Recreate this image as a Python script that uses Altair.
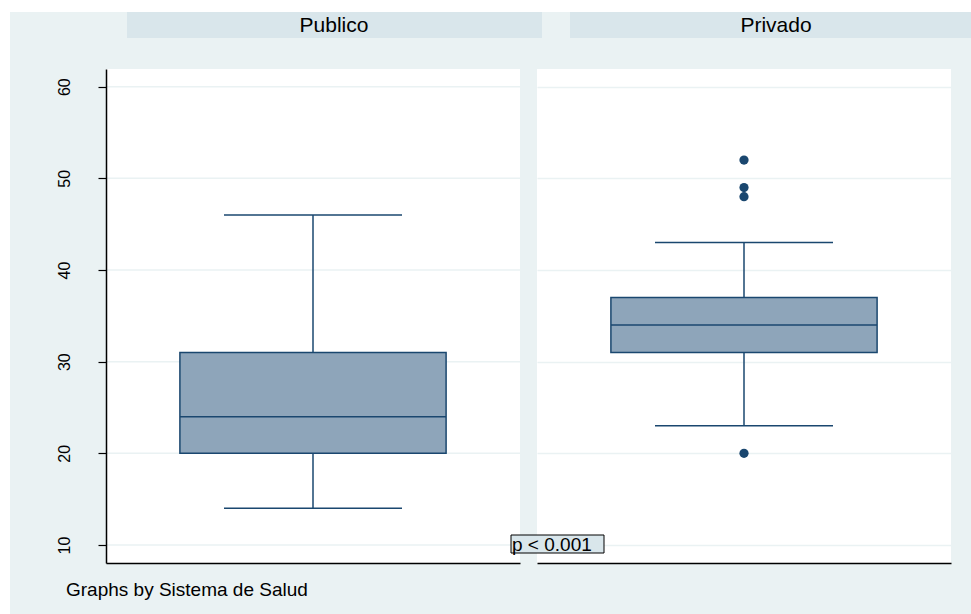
import altair as alt
import pandas as pd

# ---- data ----
grupos = ["Publico", "Privado"]
bigote_inf = [14, 23]
q1 = [20, 31]
mediana = [24, 34]
q3 = [31, 37]
bigote_sup = [46, 43]
atipicos_grupo = ["Privado", "Privado", "Privado", "Privado"]
atipicos_valor = [52, 49, 48, 20]
y_ticks = [10, 20, 30, 40, 50, 60]
nota_p = "p < 0.001"
nota_by = "Graphs by Sistema de Salud"

stats = pd.DataFrame({"grupo": grupos, "lo": bigote_inf, "q1": q1,
                      "med": mediana, "q3": q3, "hi": bigote_sup})
outl = pd.DataFrame({"grupo": atipicos_grupo, "valor": atipicos_valor})
grid_df = pd.DataFrame({"v": y_ticks})

BG = "#EAF2F3"
STRIP = "#D9E6EB"
FILL = "#8EA5BA"
EDGE = "#1A476F"
FONT = "Liberation Sans"
W, H = 414, 494
YDOM = [8.04, 61.93]


def panel(name, first):
    d = stats[stats.grupo == name]
    yscale = alt.Scale(domain=YDOM, nice=False, zero=False)
    xenc = alt.X("grupo:N", scale=alt.Scale(paddingInner=0, paddingOuter=0),
                 axis=alt.Axis(labels=False, ticks=False, title=None, domain=True,
                               domainColor="black", domainWidth=1.5, zindex=1))
    if first:
        yaxis = alt.Axis(values=y_ticks, grid=False, title=None, labelAngle=270,
                         labelAlign="center", labelBaseline="bottom", labelPadding=26,
                         labelFontSize=16, labelFont=FONT, labelColor="black",
                         tickSize=8, tickColor="black", tickWidth=1.2,
                         domainColor="black", domainWidth=1.5, zindex=1)
    else:
        yaxis = alt.Axis(values=y_ticks, grid=True, gridColor=BG, gridWidth=1.5,
                         labels=False, ticks=False, domain=False, title=None)

    layers = []
    if first:
        # graph region background and white plot region
        layers.append(alt.Chart(d).mark_rect(color=BG).encode(
            x=alt.value(-96), x2=alt.value(865), y=alt.value(-57), y2=alt.value(545)))
        layers.append(alt.Chart(d).mark_rect(color="white").encode(
            x=alt.value(0), x2=alt.value(W), y=alt.value(0), y2=alt.value(H)))
        layers.append(alt.Chart(grid_df).mark_rule(color=BG, strokeWidth=1.5).encode(
            y=alt.Y("v:Q", scale=yscale, axis=yaxis),
            x=alt.value(0), x2=alt.value(W)))
        strip_x = (21, 436, 228)
    else:
        strip_x = (33, 434, 239)

    # strip header
    layers.append(alt.Chart(d).mark_rect(color=STRIP).encode(
        x=alt.value(strip_x[0]), x2=alt.value(strip_x[1]),
        y=alt.value(-57), y2=alt.value(-31)))
    layers.append(alt.Chart(d).mark_text(font=FONT, fontSize=21, color="black",
                                         baseline="middle", align="center").encode(
        text="grupo:N", x=alt.value(strip_x[2]), y=alt.value(-43)))

    # whiskers
    layers.append(alt.Chart(d).mark_rule(color=EDGE, strokeWidth=1.5).encode(
        x=xenc, y=alt.Y("q3:Q", scale=yscale, axis=yaxis), y2="hi:Q"))
    layers.append(alt.Chart(d).mark_rule(color=EDGE, strokeWidth=1.5).encode(
        x=xenc, y=alt.Y("lo:Q", scale=yscale, axis=yaxis), y2="q1:Q"))
    # caps
    for f in ["lo", "hi"]:
        layers.append(alt.Chart(d).mark_tick(color=EDGE, size=178, thickness=1.5,
                                             opacity=1).encode(
            x=xenc, y=alt.Y(f + ":Q", scale=yscale, axis=yaxis)))
    # box
    layers.append(alt.Chart(d).mark_bar(width=alt.RelativeBandSize(0.643), fill=FILL,
                                        stroke=EDGE, strokeWidth=1.5, opacity=1).encode(
        x=xenc, y=alt.Y("q1:Q", scale=yscale, axis=yaxis), y2="q3:Q"))
    # median
    layers.append(alt.Chart(d).mark_tick(color=EDGE, size=266, thickness=1.5,
                                         opacity=1).encode(
        x=xenc, y=alt.Y("med:Q", scale=yscale, axis=yaxis)))
    # outliers
    o = outl[outl.grupo == name]
    if len(o):
        layers.append(alt.Chart(o).mark_circle(color=EDGE, size=85, opacity=1).encode(
            x=xenc, y=alt.Y("valor:Q", scale=yscale, axis=yaxis)))

    if first:
        layers.append(alt.Chart(pd.DataFrame({"t": [nota_by]})).mark_text(
            font=FONT, fontSize=19, color="black", align="left", baseline="middle").encode(
            text="t:N", x=alt.value(-40), y=alt.value(521)))
    else:
        pdf = pd.DataFrame({"t": [nota_p]})
        layers.append(alt.Chart(pdf).mark_rect(fill=STRIP, stroke="black",
                                               strokeWidth=1).encode(
            x=alt.value(-26), x2=alt.value(67), y=alt.value(466), y2=alt.value(484)))
        layers.append(alt.Chart(pdf).mark_text(
            font=FONT, fontSize=19, color="black", align="left", baseline="middle").encode(
            text="t:N", x=alt.value(-25), y=alt.value(476)))

    return alt.layer(*layers).properties(width=W, height=H)


chart = alt.hconcat(panel("Publico", True), panel("Privado", False),
                    spacing=17, bounds="flush").properties(
    padding={"left": 10, "top": 12, "right": 0, "bottom": 0},
    background="white",
).configure_view(fill="white", stroke=None)

chart.save("out.html", embed_options={"renderer": "svg", "actions": False})
